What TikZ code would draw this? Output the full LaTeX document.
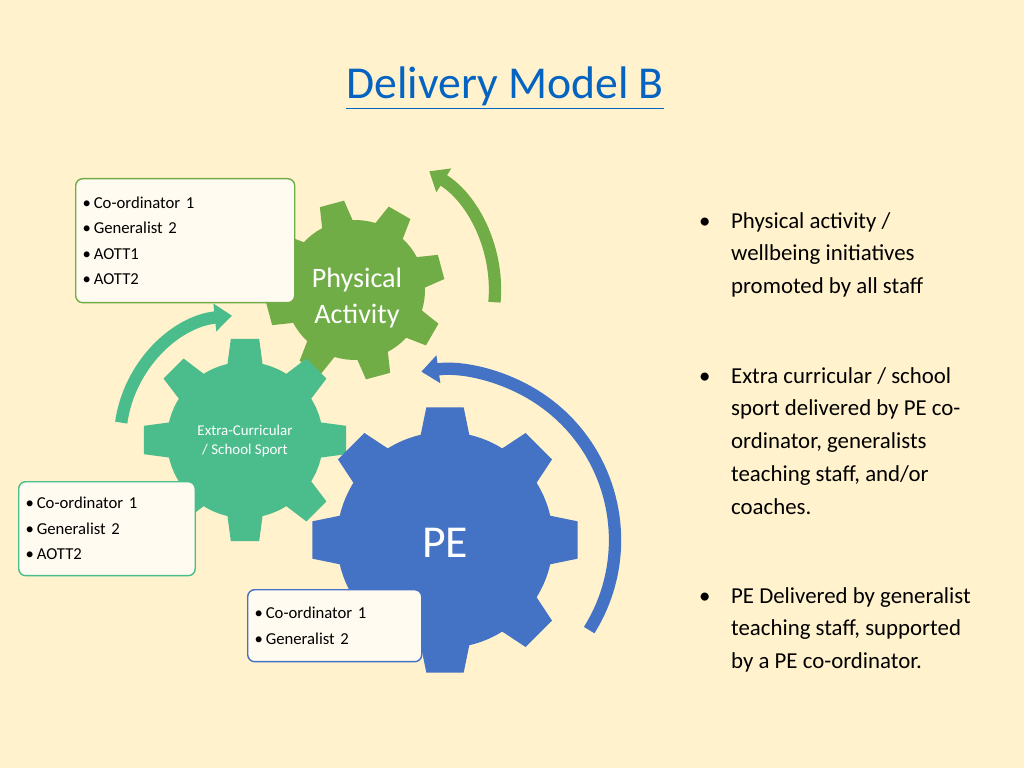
\documentclass[tikz,border=0pt]{standalone}
\usepackage{fontspec}
\setmainfont{Carlito}
\usetikzlibrary{arrows.meta}
\definecolor{cream}{HTML}{FFF2CC}
\definecolor{pagreen}{HTML}{70AD47}
\definecolor{ecteal}{HTML}{4BBD8C}
\definecolor{peblue}{HTML}{4472C4}
\definecolor{titleblue}{HTML}{0563C1}
\tikzset{
  listbox/.style={draw, rounded corners=4pt, fill=white!70!cream, line width=0.8pt,
    align=left, anchor=north west, inner sep=4pt, font=\fontsize{9.5}{14.5}\selectfont},
  sidetext/.style={anchor=north west, align=left, font=\fontsize{13}{18.7}\selectfont},
  turn/.style={line width=#1, -{Triangle[width=2.2*#1, length=1.4*#1]}},
}
% gear: centre, rotation, inner and outer radius
\newcommand{\drawgear}[5]{%
  \begin{scope}[shift={#1}]
  \fill[#5] ({#2-13}:#3) \foreach \a in {0,45,...,315} {
    -- ({#2+\a-8}:#4) -- ({#2+\a+8}:#4) -- ({#2+\a+13}:#3)
    arc[start angle=#2+\a+13, end angle=#2+\a+32, radius=#3]} -- cycle;
  \end{scope}}
\begin{document}
\begin{tikzpicture}[x=0.02cm, y=0.02cm]
\fill[cream] (0,0) rectangle (1024,768);
\useasboundingbox (0,0) rectangle (1024,768);

\node[font=\fontsize{26}{30}\selectfont, text=titleblue] (title) at (505,680) {\underline{Delivery Model B}};

% gears
\drawgear{(355,478)}{15}{70}{90}{pagreen}
\drawgear{(245,328)}{90}{78}{102}{ecteal}
\drawgear{(445,228)}{90}{108}{134}{peblue}
\node[text=white, align=center, font=\fontsize{16}{20}\selectfont] (pa) at (357,470) {Physical\\Activity};
\node[text=white, align=center, font=\fontsize{8.5}{11}\selectfont] (ec) at (245,327) {Extra-Curricular\\/ School Sport};
\node[text=white, font=\fontsize{26}{30}\selectfont] (pe) at (445,225) {PE};

% turning arrows
\draw[turn=7pt, pagreen] (355,478) ++(-5:140) arc[start angle=-5, end angle=58, radius=140];
\draw[turn=7pt, ecteal] (245,328) ++(172:125) arc[start angle=172, end angle=96, radius=125];
\draw[turn=7pt, peblue] (445,228) ++(-32:170) arc[start angle=-32, end angle=98, radius=170];

% staff boxes
\node[listbox, draw=pagreen, text width=4.1cm, minimum height=2.48cm] (box1) at (75,590)
  {\textbullet\,Co-ordinator 1\\\textbullet\,Generalist 2\\\textbullet\,AOTT1\\\textbullet\,AOTT2\\[2pt]};
\node[listbox, draw=ecteal, text width=3.25cm, minimum height=1.88cm] (box2) at (18,287)
  {\textbullet\,Co-ordinator 1\\\textbullet\,Generalist 2\\\textbullet\,AOTT2};
\node[listbox, draw=peblue, text width=3.2cm, minimum height=1.44cm] (box3) at (247,179)
  {\textbullet\,Co-ordinator 1\\\textbullet\,Generalist 2};

% notes
\node[sidetext] (note1) at (693,562) {\textbullet\hspace{0.9em}\parbox[t]{6cm}{Physical activity /\\wellbeing initiatives\\promoted by all staff}};
\node[sidetext] (note2) at (693,407) {\textbullet\hspace{0.9em}\parbox[t]{6cm}{Extra curricular / school\\sport delivered by PE co-\\ordinator, generalists\\teaching staff, and/or\\coaches.}};
\node[sidetext] (note3) at (693,187) {\textbullet\hspace{0.9em}\parbox[t]{6cm}{PE Delivered by generalist\\teaching staff, supported\\by a PE co-ordinator.}};
\end{tikzpicture}
\end{document}
